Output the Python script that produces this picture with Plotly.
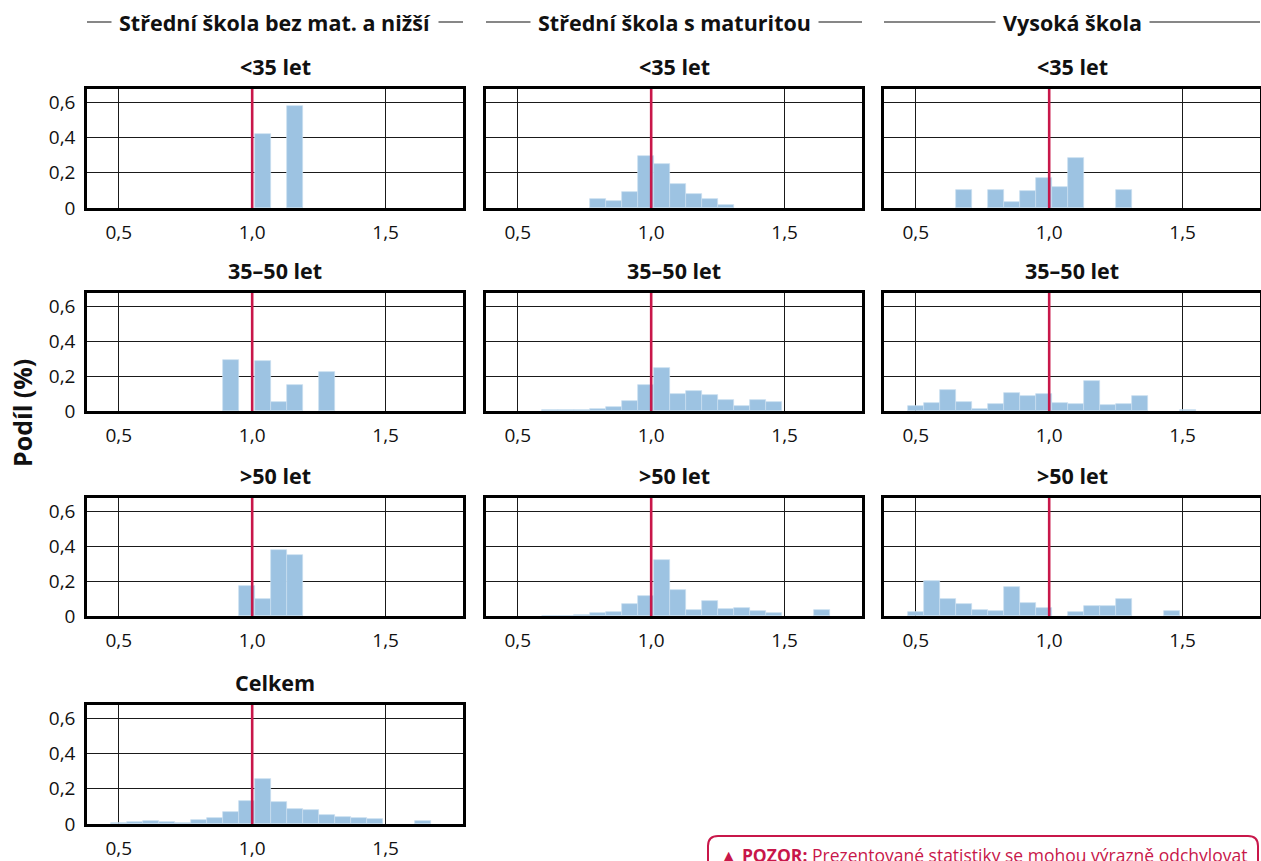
import plotly.graph_objects as go

# ---------------- data ----------------
bin_left = [0.47, 0.53, 0.59, 0.65, 0.71, 0.77, 0.83, 0.89, 0.95, 1.01,
            1.07, 1.13, 1.19, 1.25, 1.31, 1.37, 1.43, 1.49, 1.55, 1.61]
bin_width = 0.06

column_titles = ["Střední škola bez mat. a nižší", "Střední škola s maturitou", "Vysoká škola"]
row_titles = ["<35 let", "35–50 let", ">50 let", "Celkem"]

ss_bez_lt35 = [0, 0, 0, 0, 0, 0, 0, 0, 0, 0.42, 0, 0.58, 0, 0, 0, 0, 0, 0, 0, 0]
ss_mat_lt35 = [0, 0, 0, 0, 0, 0.05, 0.038, 0.093, 0.297, 0.252, 0.136, 0.078, 0.05, 0.016, 0, 0, 0, 0, 0, 0]
vs_lt35 = [0, 0, 0, 0.104, 0, 0.1, 0.035, 0.097, 0.168, 0.119, 0.281, 0, 0, 0.104, 0, 0, 0, 0, 0, 0]

ss_bez_35_50 = [0, 0, 0, 0, 0, 0, 0, 0.29, 0, 0.285, 0.05, 0.15, 0, 0.225, 0, 0, 0, 0, 0, 0]
ss_mat_35_50 = [0, 0, 0.003, 0.003, 0.004, 0.011, 0.024, 0.058, 0.146, 0.248, 0.095, 0.116, 0.09, 0.065, 0.026, 0.062, 0.049, 0, 0, 0]
vs_35_50 = [0.03, 0.043, 0.122, 0.049, 0.011, 0.039, 0.103, 0.086, 0.099, 0.043, 0.039, 0.169, 0.035, 0.039, 0.084, 0, 0, 0.003, 0, 0]

ss_bez_gt50 = [0, 0, 0, 0, 0, 0, 0, 0, 0.173, 0.098, 0.376, 0.35, 0, 0, 0, 0, 0, 0, 0, 0]
ss_mat_gt50 = [0, 0, 0.002, 0.002, 0.008, 0.015, 0.021, 0.071, 0.117, 0.321, 0.15, 0.032, 0.086, 0.039, 0.047, 0.028, 0.017, 0, 0, 0.032]
vs_gt50 = [0.021, 0.201, 0.1, 0.066, 0.032, 0.028, 0.167, 0.073, 0.043, 0, 0.021, 0.056, 0.058, 0.096, 0, 0, 0.026, 0, 0, 0]

celkem = [0.003, 0.01, 0.016, 0.01, 0.008, 0.02, 0.036, 0.069, 0.13, 0.253, 0.127, 0.087, 0.08, 0.052, 0.038, 0.035, 0.027, 0, 0, 0.015]

x_ticks = [0.5, 1.0, 1.5]
y_ticks = [0, 0.2, 0.4, 0.6]
reference_value = 1.0

warning_bold = "POZOR:"
warning_text = "Prezentované statistiky se mohou výrazně odchylovat"

# panels: (row, col, values)
panels = [
    (0, 0, ss_bez_lt35), (0, 1, ss_mat_lt35), (0, 2, vs_lt35),
    (1, 0, ss_bez_35_50), (1, 1, ss_mat_35_50), (1, 2, vs_35_50),
    (2, 0, ss_bez_gt50), (2, 1, ss_mat_gt50), (2, 2, vs_gt50),
    (3, 0, celkem),
]

# ---------------- layout geometry (pixels) ----------------
W, H = 1261, 861
col_px = [(87, 463), (486, 862), (884, 1260)]
row_px = [(89, 208), (293, 411), (498, 616), (705, 824)]


def px_x(p):
    return p / W


def px_y(p):
    return 1 - p / H


FONT = "Open Sans"
BAR_COLOR = "#9DC3E2"
RED = "#C8174A"

fig = go.Figure()
layout_axes = {}
shapes = []
annotations = []

for i, (r, c, vals) in enumerate(panels):
    n = i + 1
    xa = "x" if n == 1 else f"x{n}"
    ya = "y" if n == 1 else f"y{n}"
    xs = [b + bin_width / 2 for b, v in zip(bin_left, vals) if v > 0]
    ys = [v for v in vals if v > 0]
    fig.add_trace(go.Bar(
        x=xs, y=ys, width=bin_width,
        marker=dict(color=BAR_COLOR, line=dict(color="#C9DEEF", width=0.7)),
        xaxis=xa, yaxis=ya, showlegend=False, hoverinfo="x+y",
    ))
    x0, x1 = col_px[c]
    yt, yb = row_px[r]
    xkey = "xaxis" if n == 1 else f"xaxis{n}"
    ykey = "yaxis" if n == 1 else f"yaxis{n}"
    layout_axes[xkey] = dict(
        domain=[px_x(x0), px_x(x1)], anchor=ya, range=[0.381, 1.79],
        tickvals=x_ticks, tickformat=".1f", showgrid=True, gridcolor="#1a1a1a",
        gridwidth=1.3, zeroline=False, showline=True, linecolor="#000000",
        linewidth=2.5, mirror=True, ticks="", automargin=False,
        tickfont=dict(family=FONT, size=19, color="#111111"),
        ticklabelstandoff=5, fixedrange=True,
    )
    layout_axes[ykey] = dict(
        domain=[px_y(yb), px_y(yt)], anchor=xa, range=[0, 0.675],
        tickvals=y_ticks, showgrid=True, gridcolor="#1a1a1a", gridwidth=1.3,
        zeroline=False, showline=True, linecolor="#000000", linewidth=2.5,
        mirror=True, ticks="", automargin=False, showticklabels=(c == 0),
        tickfont=dict(family=FONT, size=19, color="#111111"),
        ticklabelstandoff=5, fixedrange=True,
    )
    shapes.append(dict(type="line", xref=xa, yref=ya, x0=reference_value,
                       x1=reference_value, y0=0, y1=0.675,
                       line=dict(color=RED, width=2.6), layer="above"))
    # panel title
    annotations.append(dict(
        text=f"<b>{row_titles[r]}</b>", xref="paper", yref="paper",
        x=px_x((x0 + x1) / 2), y=px_y(yt - 23), xanchor="center", yanchor="middle",
        showarrow=False, font=dict(family=FONT, size=21.5, color="#111111"),
    ))

# column headers with lines on both sides
for c, title in enumerate(column_titles):
    x0, x1 = col_px[c]
    shapes.append(dict(type="line", xref="paper", yref="paper",
                       x0=px_x(x0), x1=px_x(x1), y0=px_y(22), y1=px_y(22),
                       line=dict(color="#111111", width=1.2), layer="below"))
    annotations.append(dict(
        text=f"<b>{title}</b>", xref="paper", yref="paper",
        x=px_x((x0 + x1) / 2), y=px_y(22), xanchor="center", yanchor="middle",
        showarrow=False, bgcolor="white", borderpad=7,
        font=dict(family=FONT, size=21.5, color="#111111"),
    ))

# y-axis title
annotations.append(dict(
    text="<b>Podíl (%)</b>", xref="paper", yref="paper",
    x=px_x(22), y=px_y(413), xanchor="center", yanchor="middle",
    textangle=-90, showarrow=False,
    font=dict(family=FONT, size=25, color="#111111"),
))

# warning box (rounded rectangle, clipped by the bottom of the page)
bx0, bx1, by0, by1, rad = 708, 1258, 836, 900, 10
path = (f"M {px_x(bx0)},{px_y(by1)} L {px_x(bx0)},{px_y(by0 + rad)} "
        f"Q {px_x(bx0)},{px_y(by0)} {px_x(bx0 + rad)},{px_y(by0)} "
        f"L {px_x(bx1 - rad)},{px_y(by0)} "
        f"Q {px_x(bx1)},{px_y(by0)} {px_x(bx1)},{px_y(by0 + rad)} "
        f"L {px_x(bx1)},{px_y(by1)}")
shapes.append(dict(type="path", xref="paper", yref="paper", path=path,
                   line=dict(color=RED, width=2)))
annotations.append(dict(
    text=f"▲ <b>{warning_bold}</b> {warning_text}", xref="paper", yref="paper",
    x=px_x(983), y=px_y(855), xanchor="center", yanchor="middle",
    showarrow=False, font=dict(family=FONT, size=17.5, color=RED),
))

fig.update_layout(
    width=W, height=H, margin=dict(l=0, r=0, t=0, b=0),
    paper_bgcolor="white", plot_bgcolor="white",
    separators=", ", bargap=0, showlegend=False,
    shapes=shapes, annotations=annotations,
    template="none",
    **layout_axes,
)

fig.write_html("out.html")
